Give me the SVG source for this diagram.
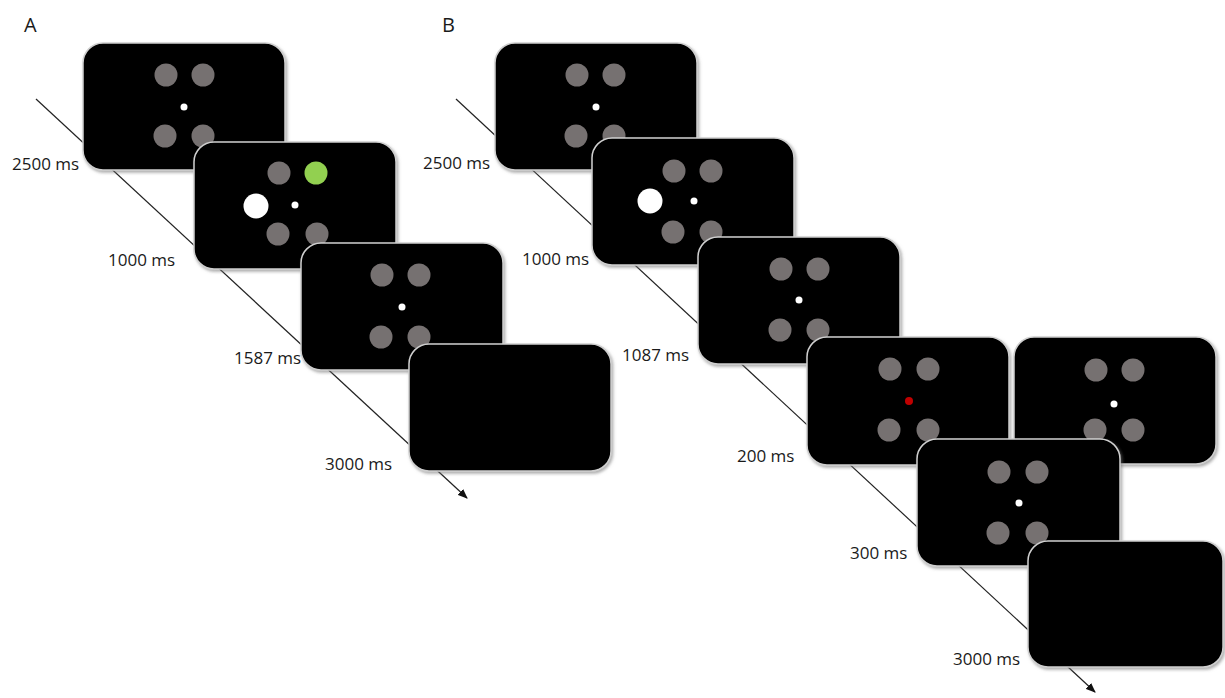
<svg xmlns="http://www.w3.org/2000/svg" width="1225" height="698" viewBox="0 0 1225 698">
<style>
.scr{fill:#000;stroke:#cfcfcf;stroke-width:1.5;filter:url(#sh)}
.g{fill:#767171}
.w{fill:#fff}
.t{font-family:"Open Sans","Noto Sans",sans-serif;font-size:17px;fill:#1a1a1a}
.p{font-family:"Open Sans","Noto Sans",sans-serif;font-size:20px;fill:#1a1a1a}
.ln{stroke:#222;stroke-width:1.2;fill:none;marker-end:url(#ah)}
</style>
<defs>
<filter id="sh" x="-5%" y="-5%" width="112%" height="115%">
<feDropShadow dx="1.5" dy="2" stdDeviation="1.5" flood-color="#777" flood-opacity="0.6"/>
</filter>
<marker id="ah" markerUnits="userSpaceOnUse" markerWidth="10" markerHeight="8" refX="9" refY="4" orient="auto">
<path d="M0,0 L10,4 L0,8 z" fill="#111"/>
</marker>
</defs>
<g id="connectors">
<line class="ln" x1="36" y1="99" x2="467" y2="498"/>
<line class="ln" x1="456" y1="99" x2="1095" y2="692"/>
</g>
<g id="a1">
<rect class="scr" x="83" y="43" width="202" height="127" rx="20"/>
<circle class="g" cx="166" cy="75" r="11.5"/><circle class="g" cx="203" cy="75" r="11.5"/>
<circle class="g" cx="165" cy="136" r="11.5"/><circle class="g" cx="203" cy="136" r="11.5"/>
<circle class="w" cx="184" cy="107" r="3.5"/>
</g>
<g id="a2">
<rect class="scr" x="194" y="142" width="202" height="127" rx="20"/>
<circle class="g" cx="279" cy="173" r="11.5"/><circle cx="316" cy="173" r="11.5" fill="#92D050"/>
<circle class="g" cx="278" cy="234" r="11.5"/><circle class="g" cx="317" cy="234" r="11.5"/>
<circle class="w" cx="256" cy="206" r="12.5"/>
<circle class="w" cx="295" cy="205" r="3.5"/>
</g>
<g id="a3">
<rect class="scr" x="301" y="243" width="202" height="127" rx="20"/>
<circle class="g" cx="382" cy="275" r="11.5"/><circle class="g" cx="419" cy="275" r="11.5"/>
<circle class="g" cx="381" cy="337" r="11.5"/><circle class="g" cx="419" cy="337" r="11.5"/>
<circle class="w" cx="402" cy="307" r="3.5"/>
</g>
<g id="a4">
<rect class="scr" x="409" y="344" width="202" height="127" rx="20"/>
</g>
<g id="b1">
<rect class="scr" x="495" y="43" width="202" height="127" rx="20"/>
<circle class="g" cx="577" cy="75" r="11.5"/><circle class="g" cx="614" cy="75" r="11.5"/>
<circle class="g" cx="576" cy="136" r="11.5"/><circle class="g" cx="614" cy="136" r="11.5"/>
<circle class="w" cx="596" cy="107" r="3.5"/>
</g>
<g id="b2">
<rect class="scr" x="592" y="138" width="202" height="127" rx="20"/>
<circle class="g" cx="674" cy="171" r="11.5"/><circle class="g" cx="711" cy="171" r="11.5"/>
<circle class="g" cx="673" cy="232" r="11.5"/><circle class="g" cx="711" cy="232" r="11.5"/>
<circle class="w" cx="650" cy="201" r="12.5"/>
<circle class="w" cx="694" cy="201" r="3.5"/>
</g>
<g id="b3">
<rect class="scr" x="698" y="237" width="202" height="127" rx="20"/>
<circle class="g" cx="781" cy="269" r="11.5"/><circle class="g" cx="818" cy="269" r="11.5"/>
<circle class="g" cx="780" cy="330" r="11.5"/><circle class="g" cx="818" cy="330" r="11.5"/>
<circle class="w" cx="799" cy="300" r="3.5"/>
</g>
<g id="b4">
<rect class="scr" x="807" y="337" width="202" height="128" rx="20"/>
<circle class="g" cx="890" cy="369" r="11.5"/><circle class="g" cx="928" cy="369" r="11.5"/>
<circle class="g" cx="889" cy="430" r="11.5"/><circle class="g" cx="928" cy="430" r="11.5"/>
<circle cx="909" cy="401" r="4" fill="#C00000"/>
</g>
<g id="b5">
<rect class="scr" x="1014" y="337" width="202" height="127" rx="20"/>
<circle class="g" cx="1096" cy="370" r="11.5"/><circle class="g" cx="1133" cy="370" r="11.5"/>
<circle class="g" cx="1095" cy="430" r="11.5"/><circle class="g" cx="1133" cy="430" r="11.5"/>
<circle class="w" cx="1114" cy="404" r="3.5"/>
</g>
<g id="b6">
<rect class="scr" x="917" y="439" width="203" height="127" rx="20"/>
<circle class="g" cx="999" cy="472" r="11.5"/><circle class="g" cx="1037" cy="472" r="11.5"/>
<circle class="g" cx="998" cy="533" r="11.5"/><circle class="g" cx="1037" cy="533" r="11.5"/>
<circle class="w" cx="1019" cy="503" r="3.5"/>
</g>
<g id="b7">
<rect class="scr" x="1028" y="541" width="195" height="126" rx="20"/>
</g>
<g id="labels">
<text class="p" x="24" y="32">A</text>
<text class="p" x="442" y="32">B</text>
<text class="t" x="12" y="170">2500 ms</text>
<text class="t" x="108" y="266">1000 ms</text>
<text class="t" x="234" y="364">1587 ms</text>
<text class="t" x="325" y="470">3000 ms</text>
<text class="t" x="423" y="169">2500 ms</text>
<text class="t" x="522" y="265">1000 ms</text>
<text class="t" x="622" y="361">1087 ms</text>
<text class="t" x="737" y="462">200 ms</text>
<text class="t" x="850" y="559">300 ms</text>
<text class="t" x="953" y="665">3000 ms</text>
</g>
</svg>
